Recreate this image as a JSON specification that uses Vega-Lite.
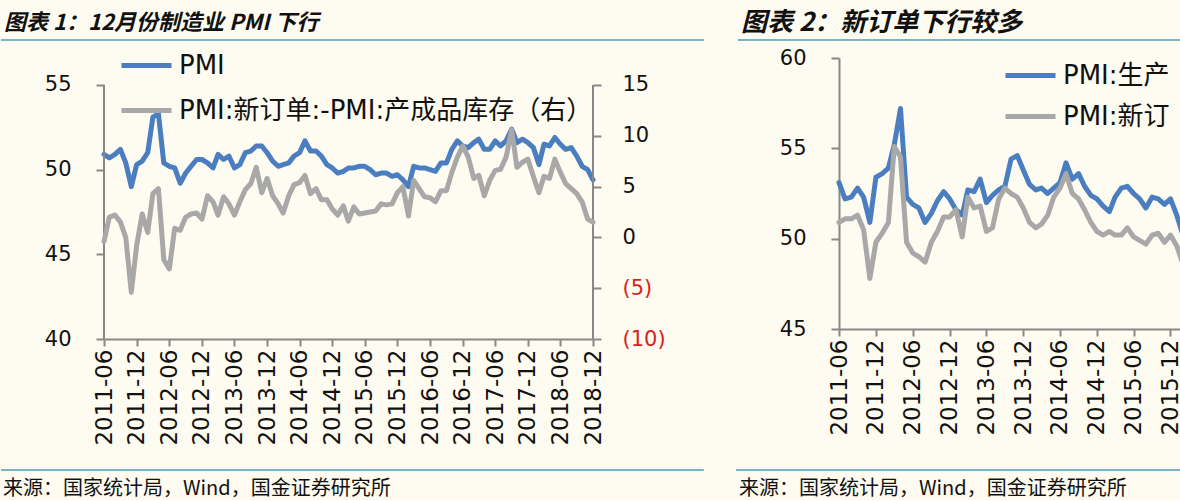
{
  "$schema": "https://vega.github.io/schema/vega-lite/v6.json",
  "background": "#FEFBF0",
  "padding": {"left": 0, "top": 10, "right": 0, "bottom": 0},
  "spacing": 30,
  "resolve": {"scale": {"color": "independent"}, "legend": {"color": "independent"}},
  "config": {
    "view": {"stroke": null},
    "font": "DejaVu Sans",
    "axis": {
      "grid": false,
      "title": null,
      "domainColor": "#888888",
      "domainWidth": 2,
      "tickColor": "#888888",
      "tickWidth": 2,
      "tickSize": 7,
      "labelFont": "DejaVu Sans",
      "labelFontSize": 21,
      "labelColor": "#111111",
      "labelOverlap": false,
      "labelFlush": false
    },
    "legend": {
      "orient": "none",
      "title": null,
      "padding": 0,
      "symbolType": "stroke",
      "symbolStrokeWidth": 5,
      "symbolSize": 2500,
      "labelFont": "DejaVu Sans, Noto Sans CJK SC",
      "labelFontSize": 26,
      "labelColor": "#111111",
      "labelOffset": 5,
      "labelLimit": 600
    },
    "style": {"guide-label": {"ellipsis": " "}},
    "title": {
      "anchor": "start",
      "frame": "group",
      "font": "Noto Sans CJK SC",
      "fontSize": 22,
      "fontStyle": "italic",
      "fontWeight": "bold",
      "color": "#111111",
      "offset": 3
    }
  },
  "datasets": {
    "left": [
      {"d": "2011-06-01", "pmi": 50.9, "diff": -0.4},
      {"d": "2011-07-01", "pmi": 50.7, "diff": 2.0},
      {"d": "2011-08-01", "pmi": 50.9, "diff": 2.2},
      {"d": "2011-09-01", "pmi": 51.2, "diff": 1.5},
      {"d": "2011-10-01", "pmi": 50.4, "diff": 0.0},
      {"d": "2011-11-01", "pmi": 49.0, "diff": -5.4},
      {"d": "2011-12-01", "pmi": 50.3, "diff": -0.8},
      {"d": "2012-01-01", "pmi": 50.5, "diff": 2.3},
      {"d": "2012-02-01", "pmi": 51.0, "diff": 0.5},
      {"d": "2012-03-01", "pmi": 53.1, "diff": 4.3},
      {"d": "2012-04-01", "pmi": 53.3, "diff": 4.8},
      {"d": "2012-05-01", "pmi": 50.4, "diff": -2.2},
      {"d": "2012-06-01", "pmi": 50.2, "diff": -3.1},
      {"d": "2012-07-01", "pmi": 50.1, "diff": 0.9},
      {"d": "2012-08-01", "pmi": 49.2, "diff": 0.7},
      {"d": "2012-09-01", "pmi": 49.8, "diff": 2.0},
      {"d": "2012-10-01", "pmi": 50.2, "diff": 2.3},
      {"d": "2012-11-01", "pmi": 50.6, "diff": 2.4},
      {"d": "2012-12-01", "pmi": 50.6, "diff": 1.8},
      {"d": "2013-01-01", "pmi": 50.4, "diff": 4.1},
      {"d": "2013-02-01", "pmi": 50.1, "diff": 3.5},
      {"d": "2013-03-01", "pmi": 50.9, "diff": 2.2},
      {"d": "2013-04-01", "pmi": 50.6, "diff": 4.0},
      {"d": "2013-05-01", "pmi": 50.8, "diff": 3.3},
      {"d": "2013-06-01", "pmi": 50.1, "diff": 2.2},
      {"d": "2013-07-01", "pmi": 50.3, "diff": 3.5},
      {"d": "2013-08-01", "pmi": 51.0, "diff": 4.7},
      {"d": "2013-09-01", "pmi": 51.1, "diff": 5.3},
      {"d": "2013-10-01", "pmi": 51.4, "diff": 6.9},
      {"d": "2013-11-01", "pmi": 51.4, "diff": 4.4},
      {"d": "2013-12-01", "pmi": 51.0, "diff": 5.8},
      {"d": "2014-01-01", "pmi": 50.5, "diff": 4.1},
      {"d": "2014-02-01", "pmi": 50.2, "diff": 3.3},
      {"d": "2014-03-01", "pmi": 50.3, "diff": 2.4},
      {"d": "2014-04-01", "pmi": 50.4, "diff": 4.1},
      {"d": "2014-05-01", "pmi": 50.8, "diff": 5.2},
      {"d": "2014-06-01", "pmi": 51.0, "diff": 5.4},
      {"d": "2014-07-01", "pmi": 51.7, "diff": 6.1},
      {"d": "2014-08-01", "pmi": 51.1, "diff": 4.3},
      {"d": "2014-09-01", "pmi": 51.1, "diff": 4.8},
      {"d": "2014-10-01", "pmi": 50.8, "diff": 3.7},
      {"d": "2014-11-01", "pmi": 50.3, "diff": 3.7},
      {"d": "2014-12-01", "pmi": 50.1, "diff": 2.8},
      {"d": "2015-01-01", "pmi": 49.8, "diff": 2.2},
      {"d": "2015-02-01", "pmi": 49.9, "diff": 3.1},
      {"d": "2015-03-01", "pmi": 50.1, "diff": 1.6},
      {"d": "2015-04-01", "pmi": 50.1, "diff": 3.0},
      {"d": "2015-05-01", "pmi": 50.2, "diff": 2.3},
      {"d": "2015-06-01", "pmi": 50.2, "diff": 2.4},
      {"d": "2015-07-01", "pmi": 50.0, "diff": 2.5},
      {"d": "2015-08-01", "pmi": 49.7, "diff": 2.6},
      {"d": "2015-09-01", "pmi": 49.8, "diff": 3.3},
      {"d": "2015-10-01", "pmi": 49.8, "diff": 3.2},
      {"d": "2015-11-01", "pmi": 49.6, "diff": 3.3},
      {"d": "2015-12-01", "pmi": 49.7, "diff": 4.4},
      {"d": "2016-01-01", "pmi": 49.4, "diff": 5.0},
      {"d": "2016-02-01", "pmi": 49.0, "diff": 2.1},
      {"d": "2016-03-01", "pmi": 50.2, "diff": 5.6},
      {"d": "2016-04-01", "pmi": 50.1, "diff": 4.8},
      {"d": "2016-05-01", "pmi": 50.1, "diff": 4.0},
      {"d": "2016-06-01", "pmi": 50.0, "diff": 3.9},
      {"d": "2016-07-01", "pmi": 49.9, "diff": 3.5},
      {"d": "2016-08-01", "pmi": 50.4, "diff": 4.6},
      {"d": "2016-09-01", "pmi": 50.4, "diff": 4.6},
      {"d": "2016-10-01", "pmi": 51.2, "diff": 6.4},
      {"d": "2016-11-01", "pmi": 51.7, "diff": 7.9},
      {"d": "2016-12-01", "pmi": 51.4, "diff": 9.0},
      {"d": "2017-01-01", "pmi": 51.3, "diff": 7.9},
      {"d": "2017-02-01", "pmi": 51.6, "diff": 5.8},
      {"d": "2017-03-01", "pmi": 51.8, "diff": 6.1},
      {"d": "2017-04-01", "pmi": 51.2, "diff": 4.1},
      {"d": "2017-05-01", "pmi": 51.2, "diff": 5.6},
      {"d": "2017-06-01", "pmi": 51.7, "diff": 6.6},
      {"d": "2017-07-01", "pmi": 51.4, "diff": 6.7},
      {"d": "2017-08-01", "pmi": 51.7, "diff": 7.9},
      {"d": "2017-09-01", "pmi": 52.4, "diff": 10.6},
      {"d": "2017-10-01", "pmi": 51.6, "diff": 6.9},
      {"d": "2017-11-01", "pmi": 51.8, "diff": 7.4},
      {"d": "2017-12-01", "pmi": 51.6, "diff": 7.7},
      {"d": "2018-01-01", "pmi": 51.3, "diff": 6.0},
      {"d": "2018-02-01", "pmi": 50.3, "diff": 4.4},
      {"d": "2018-03-01", "pmi": 51.5, "diff": 6.0},
      {"d": "2018-04-01", "pmi": 51.4, "diff": 5.8},
      {"d": "2018-05-01", "pmi": 51.9, "diff": 7.7},
      {"d": "2018-06-01", "pmi": 51.5, "diff": 6.4},
      {"d": "2018-07-01", "pmi": 51.2, "diff": 5.3},
      {"d": "2018-08-01", "pmi": 51.3, "diff": 4.8},
      {"d": "2018-09-01", "pmi": 50.8, "diff": 4.3},
      {"d": "2018-10-01", "pmi": 50.2, "diff": 3.5},
      {"d": "2018-11-01", "pmi": 50.0, "diff": 1.8},
      {"d": "2018-12-01", "pmi": 49.4, "diff": 1.5}
    ],
    "right": [
      {"d": "2011-06-01", "prod": 53.1, "orders": 50.9},
      {"d": "2011-07-01", "prod": 52.2, "orders": 51.1},
      {"d": "2011-08-01", "prod": 52.3, "orders": 51.1},
      {"d": "2011-09-01", "prod": 52.8, "orders": 51.3},
      {"d": "2011-10-01", "prod": 52.3, "orders": 50.5},
      {"d": "2011-11-01", "prod": 50.9, "orders": 47.8},
      {"d": "2011-12-01", "prod": 53.4, "orders": 49.8},
      {"d": "2012-01-01", "prod": 53.6, "orders": 50.3},
      {"d": "2012-02-01", "prod": 53.9, "orders": 50.9},
      {"d": "2012-03-01", "prod": 55.2, "orders": 55.1},
      {"d": "2012-04-01", "prod": 57.2, "orders": 54.5},
      {"d": "2012-05-01", "prod": 52.3, "orders": 49.8},
      {"d": "2012-06-01", "prod": 51.9, "orders": 49.2},
      {"d": "2012-07-01", "prod": 51.7, "orders": 49.0},
      {"d": "2012-08-01", "prod": 50.9, "orders": 48.7},
      {"d": "2012-09-01", "prod": 51.4, "orders": 49.8},
      {"d": "2012-10-01", "prod": 52.1, "orders": 50.4},
      {"d": "2012-11-01", "prod": 52.6, "orders": 51.2},
      {"d": "2012-12-01", "prod": 52.2, "orders": 51.2},
      {"d": "2013-01-01", "prod": 51.6, "orders": 51.6},
      {"d": "2013-02-01", "prod": 51.3, "orders": 50.1},
      {"d": "2013-03-01", "prod": 52.7, "orders": 52.3},
      {"d": "2013-04-01", "prod": 52.6, "orders": 51.7},
      {"d": "2013-05-01", "prod": 53.3, "orders": 51.8},
      {"d": "2013-06-01", "prod": 52.0, "orders": 50.4},
      {"d": "2013-07-01", "prod": 52.4, "orders": 50.6},
      {"d": "2013-08-01", "prod": 52.7, "orders": 52.2},
      {"d": "2013-09-01", "prod": 52.9, "orders": 52.8},
      {"d": "2013-10-01", "prod": 54.4, "orders": 52.5},
      {"d": "2013-11-01", "prod": 54.6, "orders": 52.3},
      {"d": "2013-12-01", "prod": 53.8, "orders": 51.7},
      {"d": "2014-01-01", "prod": 53.0, "orders": 50.9},
      {"d": "2014-02-01", "prod": 52.7, "orders": 50.6},
      {"d": "2014-03-01", "prod": 52.8, "orders": 50.8},
      {"d": "2014-04-01", "prod": 52.5, "orders": 51.3},
      {"d": "2014-05-01", "prod": 52.8, "orders": 52.3},
      {"d": "2014-06-01", "prod": 53.1, "orders": 52.8},
      {"d": "2014-07-01", "prod": 54.2, "orders": 53.6},
      {"d": "2014-08-01", "prod": 53.3, "orders": 52.5},
      {"d": "2014-09-01", "prod": 53.6, "orders": 52.2},
      {"d": "2014-10-01", "prod": 52.9, "orders": 51.6},
      {"d": "2014-11-01", "prod": 52.4, "orders": 50.9},
      {"d": "2014-12-01", "prod": 52.2, "orders": 50.4},
      {"d": "2015-01-01", "prod": 51.8, "orders": 50.2},
      {"d": "2015-02-01", "prod": 51.5, "orders": 50.4},
      {"d": "2015-03-01", "prod": 52.3, "orders": 50.2},
      {"d": "2015-04-01", "prod": 52.8, "orders": 50.2},
      {"d": "2015-05-01", "prod": 52.9, "orders": 50.6},
      {"d": "2015-06-01", "prod": 52.5, "orders": 50.1},
      {"d": "2015-07-01", "prod": 52.2, "orders": 49.9},
      {"d": "2015-08-01", "prod": 51.7, "orders": 49.7},
      {"d": "2015-09-01", "prod": 52.3, "orders": 50.2},
      {"d": "2015-10-01", "prod": 52.2, "orders": 50.3},
      {"d": "2015-11-01", "prod": 51.9, "orders": 49.8},
      {"d": "2015-12-01", "prod": 52.2, "orders": 50.2},
      {"d": "2016-01-01", "prod": 51.3, "orders": 49.6},
      {"d": "2016-02-01", "prod": 50.2, "orders": 48.6}
    ]
  },
  "hconcat": [
    {
      "width": 489,
      "height": 281,
      "title": {"text": "图表 1：12月份制造业 PMI 下行", "dx": -100},
      "layer": [
        {
          "layer": [
            {
              "data": {"name": "left"},
              "mark": {"type": "line", "strokeWidth": 5, "strokeJoin": "round", "strokeCap": "round"},
              "encoding": {
                "x": {
                  "field": "d", "type": "temporal",
                  "scale": {"type": "utc", "nice": false, "domain": [{"year": 2011, "month": 6, "date": 1, "utc": true}, {"year": 2018, "month": 12, "date": 1, "utc": true}]},
                  "axis": {
                    "format": "%Y-%m", "labelAngle": -90, "labelPadding": 3, "labelOverlap": false, "labelFontSize": 23, "tickCount": 100,
                    "values": [1306886400000, 1322697600000, 1338508800000, 1354320000000, 1370044800000, 1385856000000,
                               1401580800000, 1417392000000, 1433116800000, 1448928000000, 1464739200000, 1480550400000,
                               1496275200000, 1512086400000, 1527811200000, 1543622400000]
                  }
                },
                "y": {
                  "field": "pmi", "type": "quantitative",
                  "scale": {"domain": [40, 56.594], "nice": false},
                  "axis": {"orient": "left", "values": [40, 45, 50, 55], "labelPadding": 25, "tickSize": 8, "domain": false}
                },
                "color": {
                  "datum": "PMI",
                  "scale": {"domain": ["PMI", "PMI:新订单:-PMI:产成品库存（右）"], "range": ["#4A7EC0", "#A8A8A8"]},
                  "legend": {"legendX": 15, "legendY": -20, "rowPadding": 4}
                }
              }
            },
            {
              "data": {"values": [{"part": "left axis line"}]},
              "mark": {"type": "rule", "color": "#888888", "strokeWidth": 2},
              "encoding": {
                "x": {"datum": {"year": 2011, "month": 6, "date": 1, "utc": true}},
                "y": {"datum": 40},
                "y2": {"datum": 55}
              }
            },
            {
              "data": {"values": [{"part": "right axis line"}]},
              "mark": {"type": "rule", "color": "#888888", "strokeWidth": 2},
              "encoding": {
                "x": {"datum": {"year": 2018, "month": 12, "date": 1, "utc": true}},
                "y": {"datum": 40},
                "y2": {"datum": 55}
              }
            },
            {
              "data": {"values": [{"part": "header"}]},
              "mark": {"type": "rule", "color": "#4A9FB2", "strokeWidth": 1.5},
              "encoding": {
                "x": {"datum": {"year": 2009, "month": 11, "date": 1, "utc": true}},
                "x2": {"datum": {"year": 2020, "month": 8, "date": 13, "utc": true}},
                "y": {"datum": 57.657}
              }
            },
            {
              "data": {"values": [{"part": "footer"}]},
              "mark": {"type": "rule", "color": "#4A9FB2", "strokeWidth": 1.5},
              "encoding": {
                "x": {"datum": {"year": 2009, "month": 11, "date": 1, "utc": true}},
                "x2": {"datum": {"year": 2020, "month": 8, "date": 13, "utc": true}},
                "y": {"datum": 32.26}
              }
            },
            {
              "data": {"values": [{"src": "来源：国家统计局，Wind，国金证券研究所"}]},
              "mark": {"type": "text", "align": "left", "baseline": "middle", "font": "Noto Sans CJK SC", "fontSize": 20, "color": "#111111"},
              "encoding": {
                "x": {"datum": {"year": 2009, "month": 11, "date": 12, "utc": true}},
                "y": {"datum": 31.14},
                "text": {"field": "src"}
              }
            }
          ]
        },
        {
          "data": {"name": "left"},
          "mark": {"type": "line", "strokeWidth": 5, "strokeJoin": "round", "strokeCap": "round"},
          "encoding": {
            "x": {"field": "d", "type": "temporal"},
            "y": {
              "field": "diff", "type": "quantitative",
              "scale": {"domain": [-10, 17.657], "nice": false},
              "axis": {
                "orient": "right", "values": [-10, -5, 0, 5, 10, 15], "labelPadding": 21, "tickSize": 8, "domain": false,
                "labelExpr": "datum.value < 0 ? '(' + abs(datum.value) + ')' : datum.value",
                "labelColor": {"condition": {"test": "datum.value < 0", "value": "#D91E1E"}, "value": "#111111"}
              }
            },
            "color": {"datum": "PMI:新订单:-PMI:产成品库存（右）"}
          }
        }
      ],
      "resolve": {"scale": {"y": "independent"}}
    },
    {
      "width": 344,
      "height": 271,
      "title": {"text": "图表 2：新订单下行较多", "dx": -98, "fontSize": 26},
      "layer": [
        {
          "data": {"name": "right"},
          "mark": {"type": "line", "strokeWidth": 5, "strokeJoin": "round", "strokeCap": "round"},
          "encoding": {
            "x": {
              "field": "d", "type": "temporal",
              "scale": {"type": "utc", "nice": false, "domain": [{"year": 2011, "month": 6, "date": 1, "utc": true}, {"year": 2016, "month": 2, "date": 1, "utc": true}]},
              "axis": {
                "format": "%Y-%m", "labelAngle": -90, "labelPadding": 3, "labelOverlap": false, "labelFontSize": 23, "tickCount": 100,
                "values": [1306886400000, 1322697600000, 1338508800000, 1354320000000, 1370044800000, 1385856000000,
                           1401580800000, 1417392000000, 1433116800000, 1448928000000]
              }
            },
            "y": {
              "field": "prod", "type": "quantitative",
              "scale": {"domain": [45, 60], "nice": false},
              "axis": {"orient": "left", "values": [45, 50, 55, 60], "labelPadding": 25, "tickSize": 8}
            },
            "color": {
              "datum": "PMI:生产",
              "scale": {"domain": ["PMI:生产", "PMI:新订单"], "range": ["#4A7EC0", "#A8A8A8"]},
              "legend": {"legendX": 164, "legendY": -10, "labelLimit": 118, "rowPadding": -4}
            }
          }
        },
        {
          "data": {"name": "right"},
          "mark": {"type": "line", "strokeWidth": 5, "strokeJoin": "round", "strokeCap": "round"},
          "encoding": {
            "x": {"field": "d", "type": "temporal"},
            "y": {"field": "orders", "type": "quantitative"},
            "color": {"datum": "PMI:新订单"}
          }
        },
        {
          "data": {"values": [{"part": "header"}]},
          "mark": {"type": "rule", "color": "#4A9FB2", "strokeWidth": 1.5},
          "encoding": {
            "x": {"datum": {"year": 2010, "month": 1, "date": 16, "utc": true}},
            "x2": {"datum": {"year": 2016, "month": 2, "date": 1, "utc": true}},
            "y": {"datum": 61.0}
          }
        },
        {
          "data": {"values": [{"part": "footer"}]},
          "mark": {"type": "rule", "color": "#4A9FB2", "strokeWidth": 1.5},
          "encoding": {
            "x": {"datum": {"year": 2010, "month": 1, "date": 6, "utc": true}},
            "x2": {"datum": {"year": 2016, "month": 2, "date": 1, "utc": true}},
            "y": {"datum": 37.2}
          }
        },
        {
          "data": {"values": [{"src": "来源：国家统计局，Wind，国金证券研究所"}]},
          "mark": {"type": "text", "align": "left", "baseline": "middle", "font": "Noto Sans CJK SC", "fontSize": 20, "color": "#111111"},
          "encoding": {
            "x": {"datum": {"year": 2010, "month": 1, "date": 21, "utc": true}},
            "y": {"datum": 36.14},
            "text": {"field": "src"}
          }
        }
      ]
    }
  ]
}
